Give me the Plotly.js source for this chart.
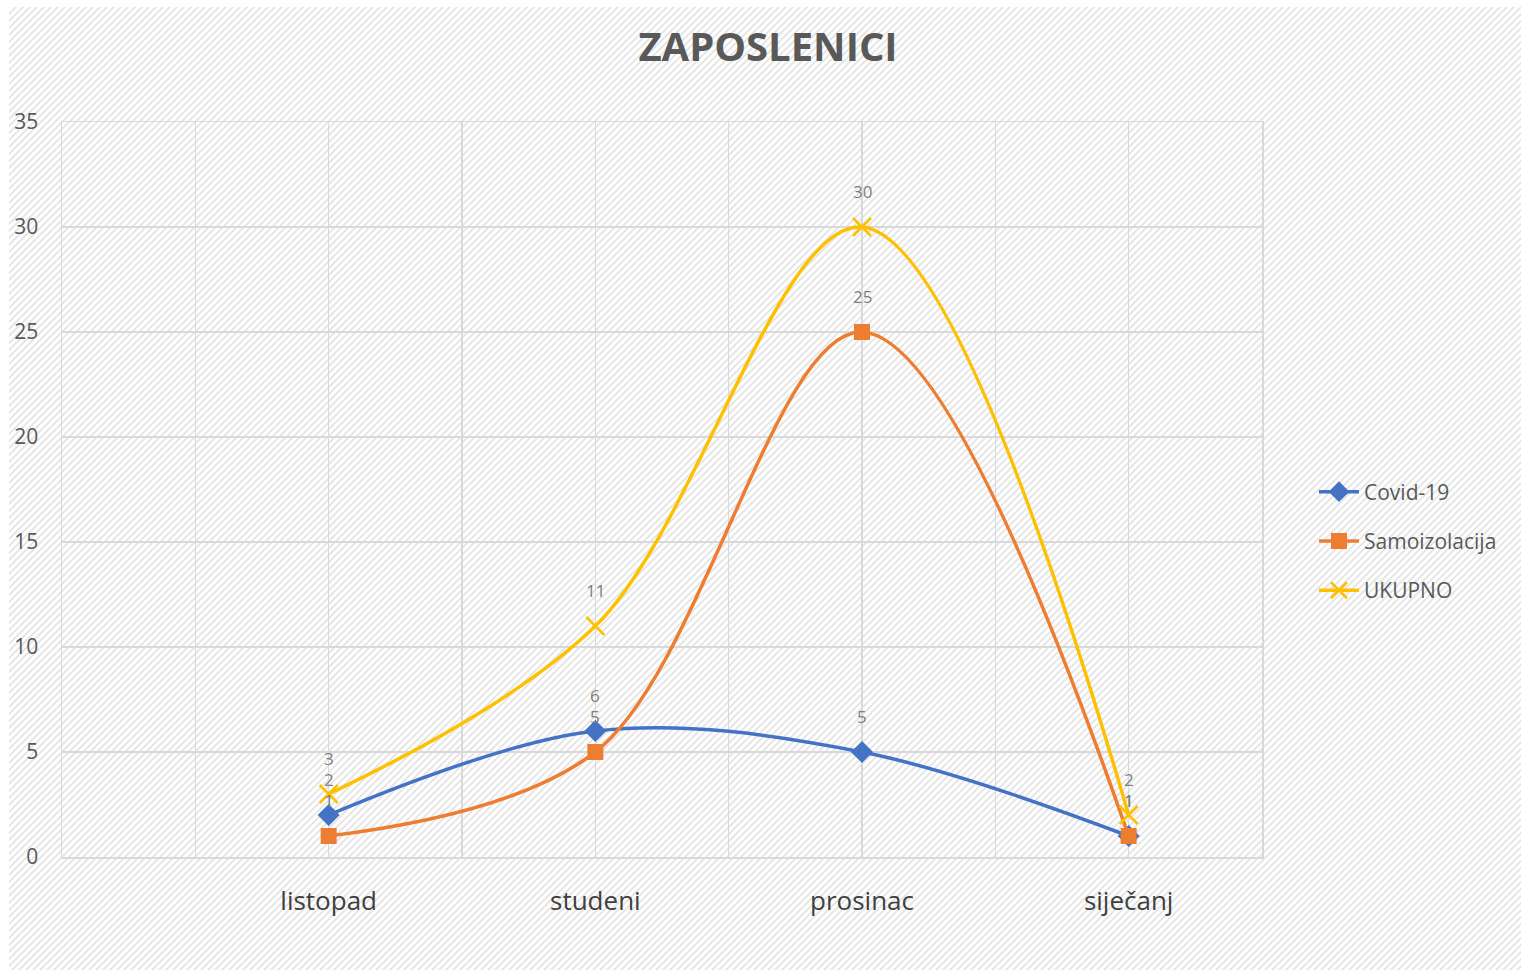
<!DOCTYPE html>
<html>
<head>
<meta charset="utf-8">
<script src="https://cdn.plot.ly/plotly-3.0.1.min.js"></script>
<style>
  html, body { margin: 0; padding: 0; width: 1521px; height: 973px; background: #ffffff; overflow: hidden; }
  #bg { position: absolute; left: 9px; top: 7px; width: 1512px; height: 963px; }
  #chart { position: absolute; left: 0; top: 0; width: 1521px; height: 973px; }
</style>
</head>
<body>
<svg id="bg" width="1512" height="963" xmlns="http://www.w3.org/2000/svg">
  <defs>
    <pattern id="hatch" width="7" height="7" patternUnits="userSpaceOnUse">
      <rect width="7" height="7" fill="#ffffff"/>
      <path d="M-1,8 L8,-1 M-1,1 L1,-1 M6,8 L8,6" stroke="#e4e4e4" stroke-width="1.8"/>
    </pattern>
  </defs>
  <rect width="1512" height="963" fill="url(#hatch)"/>
</svg>
<div id="chart"></div>
<script>
const categories = ["listopad", "studeni", "prosinac", "siječanj"];
const covid = [2, 6, 5, 1];
const samoizolacija = [1, 5, 25, 1];
const ukupno = [3, 11, 30, 2];
const yTicks = [0, 5, 10, 15, 20, 25, 30, 35];

const xIdx = categories.map((c, i) => i);

const seriesDefs = [
  { name: "Covid-19", values: covid, color: "#4472C4", symbol: "diamond", size: 17 },
  { name: "Samoizolacija", values: samoizolacija, color: "#ED7D31", symbol: "square", size: 16 },
  { name: "UKUPNO", values: ukupno, color: "#FFC000", symbol: "x-thin", size: 18 }
];

const traces = seriesDefs.map((s, k) => ({
  type: "scatter",
  mode: "lines+markers",
  name: s.name,
  x: xIdx,
  y: s.values,
  legendgroup: "g" + k,
  line: { color: s.color, width: 3.5, shape: "spline", smoothing: 1 },
  marker: {
    symbol: s.symbol, size: s.size, color: s.color,
    line: { color: s.color, width: s.symbol === "x-thin" ? 2.5 : 0 }
  },
  hoverinfo: "x+y"
}));

const annotations = [];
seriesDefs.forEach(s => {
  s.values.forEach((v, i) => {
    annotations.push({
      x: xIdx[i], y: v, xref: "x", yref: "y",
      text: String(v), showarrow: false, yshift: 36,
      font: { family: "Open Sans, sans-serif", size: 17, color: "#7f7f7f" }
    });
  });
});

const layout = {
  width: 1521, height: 973,
  margin: { l: 62, r: 259, t: 122, b: 116 },
  paper_bgcolor: "rgba(0,0,0,0)",
  plot_bgcolor: "rgba(0,0,0,0)",
  font: { family: "Open Sans, sans-serif", color: "#595959" },
  title: {
    text: "<b>ZAPOSLENICI</b>",
    x: 768 / 1521, xanchor: "center", xref: "container",
    y: 1 - 47 / 973, yanchor: "middle", yref: "container",
    font: { family: "Open Sans, sans-serif", size: 40, color: "#595959" }
  },
  xaxis: {
    range: [-1, 3.5],
    tickmode: "array",
    tickvals: [-1, -0.5, 0, 0.5, 1, 1.5, 2, 2.5, 3, 3.5],
    ticktext: ["", "", categories[0], "", categories[1], "", categories[2], "", categories[3], ""],
    showgrid: true, gridcolor: "#d9d9d9", gridwidth: 1.5,
    showline: true, linecolor: "#d9d9d9", linewidth: 1.5, mirror: true,
    zeroline: false, ticks: "",
    ticklabelstandoff: 20,
    tickfont: { family: "Open Sans, sans-serif", size: 26, color: "#404040" },
    fixedrange: true
  },
  yaxis: {
    range: [0, 35],
    tickmode: "array",
    tickvals: yTicks,
    ticktext: yTicks.map(String),
    showgrid: true, gridcolor: "#d9d9d9", gridwidth: 1.5,
    showline: true, linecolor: "#d9d9d9", linewidth: 1.5, mirror: true,
    zeroline: false, ticks: "",
    ticklabelstandoff: 18,
    tickfont: { family: "Open Sans, sans-serif", size: 21, color: "#595959" },
    fixedrange: true
  },
  showlegend: true,
  legend: {
    x: 1314 / 1521, xanchor: "left", xref: "container",
    y: 1 - 541 / 973, yanchor: "middle", yref: "container",
    bgcolor: "rgba(0,0,0,0)",
    font: { family: "Open Sans, sans-serif", size: 21, color: "#595959" },
    tracegroupgap: 19,
    itemwidth: 40
  },
  annotations: annotations
};

Plotly.newPlot("chart", traces, layout, { displayModeBar: false, staticPlot: true });
</script>
</body>
</html>
